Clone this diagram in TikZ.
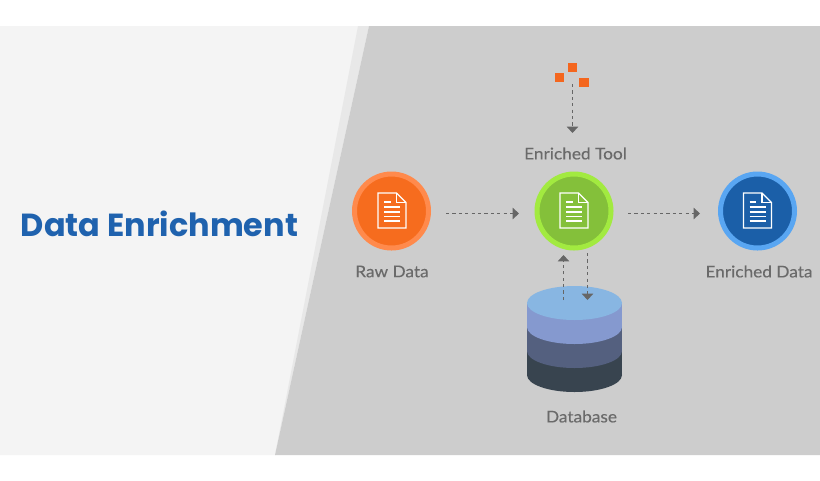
\documentclass[tikz,border=0pt]{standalone}
\usepackage{fontspec}
\setmainfont{Lato}
\newfontfamily\ttlfont{Poppins}
\newfontfamily\labfont{Lato}[FakeStretch=1.07,FakeBold=0.25]
\usetikzlibrary{arrows.meta,shapes.geometric}
\definecolor{gbg}{HTML}{CDCDCD}
\definecolor{lbg}{HTML}{F4F4F4}
\definecolor{band}{HTML}{E8E8E8}
\definecolor{lbl}{HTML}{6A6A6A}
\definecolor{arr}{HTML}{666666}
\definecolor{ttl}{HTML}{1F62AE}
\definecolor{org}{HTML}{F66C1E}
\definecolor{orgr}{HTML}{FF8A4C}
\definecolor{grn}{HTML}{84C03A}
\definecolor{grnr}{HTML}{A2EA40}
\definecolor{blu}{HTML}{1B5FA8}
\definecolor{blur}{HTML}{59A6F2}
\definecolor{sq}{HTML}{F4661E}
\definecolor{dba}{HTML}{88B6E2}
\definecolor{dbb}{HTML}{8599CF}
\definecolor{dbc}{HTML}{54607F}
\definecolor{dbd}{HTML}{38444F}
\tikzset{
  x=0.75pt,y=-0.75pt,
  lab/.style={text=lbl,font=\labfont\fontsize{12.1pt}{14pt}\selectfont,inner sep=0,anchor=center},
  hub/.style={circle,line width=3.75pt,minimum size=55.5pt,inner sep=0},
  flow/.style={draw=arr,line width=0.8pt,dash pattern=on 2.4pt off 2.4pt,-{Triangle[length=4.8pt,width=8.6pt,fill=arr]}},
  sqr/.style={fill=sq,draw=none,minimum size=6.9pt,inner sep=0},
}
\newcommand{\docicon}[1]{%
  \begin{scope}[shift={(#1)}]
    \draw[white,line width=0.9pt,line join=miter] (-14,-17.5) -- (4.5,-17.5) -- (14,-8) -- (14,17.5) -- (-14,17.5) -- cycle;
    \draw[white,line width=0.9pt] (4.5,-17.5) -- (4.5,-8) -- (14,-8);
    \draw[white,line width=1pt] (-8,-8.5) -- (-1.5,-8.5);
    \foreach \yy in {-3.5,1.5,6,10.5} \draw[white,line width=1pt] (-8,\yy) -- (8,\yy);
  \end{scope}}
\begin{document}
\begin{tikzpicture}
\useasboundingbox (0,0) rectangle (820,480);
\fill[white] (0,0) rectangle (820,480);
\fill[lbg] (0,26) -- (369,26) -- (275,455) -- (0,455) -- cycle;
\fill[band] (358,26) -- (369,26) -- (275,455) -- cycle;
\fill[gbg] (369,26) -- (820,26) -- (820,455) -- (275,455) -- cycle;

\node[font=\ttlfont\bfseries\fontsize{23.95pt}{28pt}\selectfont,text=ttl,inner sep=0] (title) at (159.5,224) {Data Enrichment};

\node[hub,fill=org,draw=orgr] (raw) at (391.5,211) {};
\node[hub,fill=grn,draw=grnr] (tool) at (574,211) {};
\node[hub,fill=blu,draw=blur] (enr) at (757.5,211) {};
\docicon{392,210.5}
\docicon{574,210.5}
\docicon{757.5,210.5}

\node[lab] (rawl) at (392,271.5) {Raw Data};
\node[lab] (tooll) at (575.5,153.5) {Enriched Tool};
\node[lab] (enrl) at (759,271.5) {Enriched Data};
\node[lab] (dbl) at (581.5,416.5) {Database};

% database
\fill[dbd] (574.5,375) ellipse [x radius=47.5,y radius=17];
\fill[dbd] (527,303) rectangle (622,375);
\fill[dbc] (574.5,351) ellipse [x radius=47.5,y radius=17];
\fill[dbc] (527,303) rectangle (622,351);
\fill[dbb] (574.5,327) ellipse [x radius=47.5,y radius=17];
\fill[dbb] (527,303) rectangle (622,327);
\node[ellipse,fill=dba,minimum width=71.25pt,minimum height=25.5pt,inner sep=0] (db) at (574.5,303) {};

% tool squares
\node[sqr] (s1) at (559.5,77.5) {};
\node[sqr] (s2) at (572.5,67.5) {};
\node[sqr] (s3) at (584,82.5) {};

\coordinate (a1) at (446,213.5);
\coordinate (a2) at (519,213.5);
\coordinate (b1) at (628,213.5);
\coordinate (b2) at (700,213.5);
\coordinate (c1) at (572.5,84);
\coordinate (c2) at (572.5,133);
\coordinate (d1) at (563.5,300);
\coordinate (d2) at (563.5,255);
\coordinate (e1) at (587.5,253);
\coordinate (e2) at (587.5,300);
\draw[flow] (a1) -- (a2);
\draw[flow] (b1) -- (b2);
\draw[flow] (c1) -- (c2);
\draw[flow] (d1) -- (d2);
\draw[flow] (e1) -- (e2);
\end{tikzpicture}
\end{document}
